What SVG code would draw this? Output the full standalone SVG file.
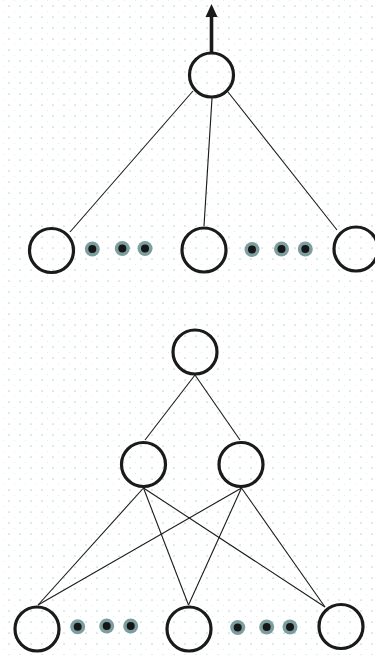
<svg xmlns="http://www.w3.org/2000/svg" width="375" height="655" viewBox="0 0 375 655">
  <defs>
    <pattern id="grid" width="11" height="11" patternUnits="userSpaceOnUse">
      <circle cx="9" cy="6" r="0.85" fill="#b3dbe0"/>
      <circle cx="3.5" cy="0.5" r="0.55" fill="#dbecee"/>
    </pattern>
    <g id="ellipsis">
      <circle r="7.5" fill="#7d9e9f"/>
      <circle r="4" fill="#161616"/>
    </g>
  </defs>
  <style>
    .node { fill: none; stroke: #1a1a1a; stroke-width: 3.2; }
    .edge { stroke: #1a1a1a; stroke-width: 1.1; fill: none; }
    .out { stroke: #1a1a1a; stroke-width: 3.6; fill: none; }
    .head { fill: #1a1a1a; }
  </style>

  <rect width="375" height="655" fill="#ffffff"/>
  <rect width="375" height="655" fill="url(#grid)"/>

  <!-- connectors -->
  <g id="connectors">
    <!-- upper tree -->
    <line class="edge" x1="193" y1="91" x2="70" y2="232"/>
    <line class="edge" x1="212" y1="98" x2="204" y2="226"/>
    <line class="edge" x1="228" y1="92" x2="337" y2="230"/>
    <!-- output arrow -->
    <line class="out" x1="211.5" y1="52" x2="211.5" y2="15"/>
    <polygon class="head" points="211.5,4 217.5,17 205.5,17"/>
    <!-- lower network: top to hidden -->
    <line class="edge" x1="195" y1="375" x2="145" y2="440"/>
    <line class="edge" x1="195" y1="375" x2="240" y2="440"/>
    <!-- hidden to inputs -->
    <line class="edge" x1="143.5" y1="488" x2="38" y2="605"/>
    <line class="edge" x1="143.5" y1="488" x2="188.5" y2="605"/>
    <line class="edge" x1="143.5" y1="488" x2="325" y2="607"/>
    <line class="edge" x1="241.5" y1="488" x2="38" y2="605"/>
    <line class="edge" x1="241.5" y1="488" x2="188.5" y2="605"/>
    <line class="edge" x1="241.5" y1="488" x2="325" y2="607"/>
  </g>

  <!-- upper tree nodes -->
  <g id="root"><circle class="node" cx="211.5" cy="75" r="22"/></g>
  <g id="leaf-1"><circle class="node" cx="51.5" cy="250.5" r="22"/></g>
  <g id="leaf-2"><circle class="node" cx="204" cy="250" r="22"/></g>
  <g id="leaf-3"><circle class="node" cx="356" cy="249" r="22"/></g>
  <g id="dots-upper-1">
    <use href="#ellipsis" x="92.3" y="249"/>
    <use href="#ellipsis" x="122.3" y="248.5"/>
    <use href="#ellipsis" x="145" y="248.5"/>
  </g>
  <g id="dots-upper-2">
    <use href="#ellipsis" x="252" y="249.5"/>
    <use href="#ellipsis" x="281.5" y="249"/>
    <use href="#ellipsis" x="305.3" y="249"/>
  </g>

  <!-- lower network nodes -->
  <g id="output"><circle class="node" cx="195" cy="352" r="22"/></g>
  <g id="hidden-1"><circle class="node" cx="143.5" cy="464.5" r="22"/></g>
  <g id="hidden-2"><circle class="node" cx="241" cy="464.5" r="22"/></g>
  <g id="input-1"><circle class="node" cx="37" cy="629" r="22"/></g>
  <g id="input-2"><circle class="node" cx="189" cy="629" r="22"/></g>
  <g id="input-3"><circle class="node" cx="341" cy="626.5" r="22"/></g>
  <g id="dots-lower-1">
    <use href="#ellipsis" x="77.7" y="626.7"/>
    <use href="#ellipsis" x="106.7" y="626"/>
    <use href="#ellipsis" x="130.7" y="626"/>
  </g>
  <g id="dots-lower-2">
    <use href="#ellipsis" x="237.7" y="627.5"/>
    <use href="#ellipsis" x="266.7" y="627"/>
    <use href="#ellipsis" x="290" y="627"/>
  </g>
</svg>
